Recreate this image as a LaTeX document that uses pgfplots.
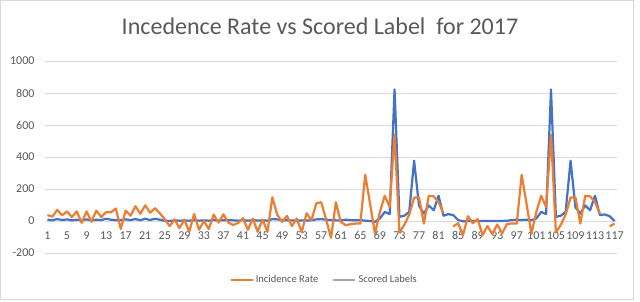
\documentclass[border=0pt]{standalone}
\usepackage{fontspec}
\setmainfont{Carlito}
\usepackage{pgfplots}
\pgfplotsset{compat=1.18}
\definecolor{orng}{HTML}{ED7D31}
\definecolor{blu}{HTML}{4472C4}
\definecolor{txt}{HTML}{595959}
\definecolor{grd}{HTML}{D9D9D9}
\definecolor{lgray}{HTML}{A5A5A5}
\begin{document}
\begin{tikzpicture}
\path[use as bounding box] (0pt,0pt) rectangle (640pt,302pt);
\draw[grd, line width=0.8pt] (0.5pt,3pt) rectangle (633pt,301.5pt);
\node[text=txt, font=\fontsize{24}{28}\selectfont] at (320pt,276pt) {Incedence Rate vs Scored Label\ \ for 2017};
\begin{axis}[at={(45pt,49pt)}, anchor=south west, scale only axis,
 width=572pt, height=192pt,
 xmin=0.5, xmax=117.5, ymin=-200, ymax=1000,
 ytick={-200,0,...,1000}, xtick={1,5,...,117},
 axis x line=middle, axis y line=left,
 x axis line style={-, draw=grd, line width=0.8pt}, y axis line style={draw=none},
 ymajorgrids, grid style={grd, line width=0.8pt},
 major tick length=0pt,
 tick label style={text=txt, font=\fontsize{12}{14}\selectfont},
 yticklabel style={xshift=-7pt},
 xticklabel style={yshift=-7pt},
 /pgf/number format/assume math mode=true,
 /pgf/number format/1000 sep={},
 unbounded coords=jump,
 legend style={at={(0.488,-0.14)}, anchor=center, draw=none, fill=none,
   legend columns=2, font=\fontsize{10.5}{12}\selectfont, text=txt,
   /tikz/every even column/.append style={column sep=12pt}},
 legend image code/.code={\draw[#1] (0pt,0pt) -- (22pt,0pt);},
 clip=false,
]
\addplot[blu, line width=2.2pt, line join=round, forget plot] coordinates {
(1,8)(2,5)(3,12)(4,6)(5,10)(6,4)(7,8)(8,5)(9,10)(10,4)
(11,8)(12,6)(13,14)(14,8)(15,5)(16,6)(17,10)(18,6)(19,12)(20,5)
(21,14)(22,6)(23,14)(24,8)(25,2)(26,0)(27,4)(28,2)(29,3)(30,2)
(31,5)(32,2)(33,4)(34,2)(35,6)(36,3)(37,5)(38,6)(39,4)(40,2)
(41,6)(42,2)(43,5)(44,3)(45,4)(46,2)(47,12)(48,10)(49,6)(50,4)
(51,4)(52,2)(53,4)(54,3)(55,5)(56,10)(57,12)(58,8)(59,6)(60,4)
(61,4)(62,8)(63,6)(64,4)(65,6)(66,2)(67,0)(68,-5)(69,16)(70,57)
(71,43)(72,822)(73,26)(74,33)(75,57)(76,377)(77,95)(78,47)(79,97)(80,67)
(81,158)(82,33)(83,43)(84,37)(85,6)(86,-2)(87,0)(88,0)(89,0)(90,0)
(91,0)(92,0)(93,0)(94,0)(95,2)(96,6)(97,8)(98,6)(99,8)(100,4)
(101,16)(102,57)(103,43)(104,822)(105,26)(106,33)(107,57)(108,377)(109,85)(110,47)
(111,97)(112,67)(113,158)(114,37)(115,41)(116,30)(117,0)
};
\addplot[orng, line width=2.2pt, line join=round] coordinates {
(1,37)(2,27)(3,70)(4,35)(5,60)(6,25)(7,60)(8,-12)(9,60)(10,-5)
(11,65)(12,25)(13,55)(14,55)(15,78)(16,-50)(17,65)(18,33)(19,93)(20,45)
(21,98)(22,52)(23,80)(24,48)(25,10)(26,-32)(27,10)(28,-45)(29,9)(30,-68)
(31,44)(32,-55)(33,0)(34,-50)(35,40)(36,-10)(37,42)(38,-10)(39,-25)(40,-12)
(41,18)(42,-55)(43,15)(44,-68)(45,10)(46,-68)(47,148)(48,40)(49,-6)(50,32)
(51,-32)(52,16)(53,-70)(54,48)(55,4)(56,111)(57,117)(58,10)(59,-105)(60,117)
(61,-6)(62,-26)(63,-20)(64,-16)(65,-16)(66,289)(67,107)(68,-79)(69,57)(70,158)
(71,87)(72,540)(73,-72)(74,-24)(75,40)(76,147)(77,147)(78,-16)(79,158)(80,154)
(81,118)(82,50)(83,nan)(84,-34)(85,-14)(86,-88)(87,30)(88,-14)(89,12)(90,-88)
(91,-32)(92,-82)(93,-22)(94,-78)(95,-18)(96,-16)(97,-16)(98,289)(99,107)(100,-79)
(101,57)(102,158)(103,87)(104,540)(105,-72)(106,-24)(107,40)(108,147)(109,147)(110,-16)
(111,158)(112,154)(113,118)(114,45)(115,nan)(116,-34)(117,-16)
};
\addlegendentry{Incidence Rate}
\addlegendimage{lgray, line width=2.2pt}
\addlegendentry{Scored Labels}
\end{axis}
\end{tikzpicture}
\end{document}
